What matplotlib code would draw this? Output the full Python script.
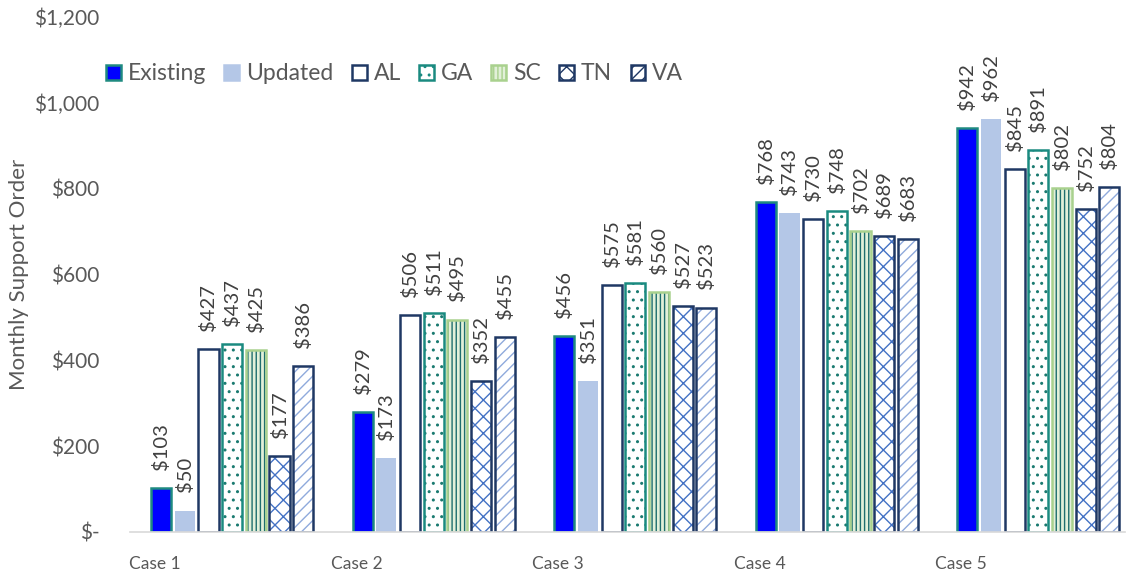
import matplotlib
matplotlib.use("Agg")
import matplotlib.pyplot as plt
import numpy as np
from matplotlib.patches import Patch
from matplotlib.ticker import FuncFormatter

cases = ["Case 1", "Case 2", "Case 3", "Case 4", "Case 5"]
series = ["Existing", "Updated", "AL", "GA", "SC", "TN", "VA"]
existing = [103, 279, 456, 768, 942]
updated = [50, 173, 351, 743, 962]
al = [427, 506, 575, 730, 845]
ga = [437, 511, 581, 748, 891]
sc = [425, 495, 560, 702, 802]
tn = [177, 352, 527, 689, 752]
va = [386, 455, 523, 683, 804]
values = [existing, updated, al, ga, sc, tn, va]

# face, border, hatch, hatch colour
styles = [
    ("#0000FF", "#1F8A80", None, None),
    ("#B4C7E7", "#B4C7E7", None, None),
    ("white", "#1F3864", None, None),
    ("white", "#1A8A80", "..", "#1A7A70"),
    ("#E2F0D9", "#A9D18E", "||||", "#1E6E6E"),
    ("white", "#1F3864", "xx", "#4472C4"),
    ("white", "#1F3864", "///", "#8FAADC"),
]

plt.rcParams["font.family"] = ["Lato", "DejaVu Sans"]
plt.rcParams["hatch.linewidth"] = 1.0
text_col = "#595959"

fig = plt.figure(figsize=(11.31, 5.78), dpi=100)
ax = fig.add_axes([0.115, 0.0796, 0.88, 0.891])

x = np.arange(len(cases))
step = 0.1175
width = 0.1
for k, (name, vals) in enumerate(zip(series, values)):
    face, edge, hatch, hcol = styles[k]
    pos = x + 0.03 + k * step
    lw = 0 if name == "Updated" else 1.8
    if hatch:
        ax.bar(pos, vals, width, color=face, edgecolor=hcol, hatch=hatch, linewidth=0)
        ax.bar(pos, vals, width, fill=False, edgecolor=edge, linewidth=lw)
    else:
        ax.bar(pos, vals, width, color=face, edgecolor=edge, linewidth=lw)
    for px, v in zip(pos, vals):
        ax.annotate(f"${v}", (px, v), xytext=(0, 13), textcoords="offset points",
                    rotation=90, ha="center", va="bottom", fontsize=14.5, color="#404040")

ax.set_xlim(-0.124, 4.814)
ax.set_ylim(0, 1200)
ax.set_yticks(range(0, 1201, 200))
ax.yaxis.set_major_formatter(FuncFormatter(lambda v, p: "$-" if v == 0 else f"${v:,.0f}"))
ax.set_xticks(x)
ax.set_xticklabels(cases)
ax.tick_params(axis="both", length=0, labelcolor=text_col)
ax.tick_params(axis="x", pad=17, labelsize=12.5)
ax.tick_params(axis="y", pad=22, labelsize=15)
for s in ["top", "right", "left"]:
    ax.spines[s].set_visible(False)
ax.spines["bottom"].set_color("#D9D9D9")
ax.spines["bottom"].set_linewidth(1.2)
ax.set_ylabel("Monthly Support Order", fontsize=16, color=text_col, labelpad=4)

handles = []
for k, name in enumerate(series):
    face, edge, hatch, hcol = styles[k]
    handles.append(Patch(facecolor=face, edgecolor=edge, hatch=hatch, linewidth=1.8))
leg = ax.legend(handles, series, ncol=7, loc="upper left", bbox_to_anchor=(-0.045, 0.95),
                frameon=False, fontsize=16.5, handlelength=0.65, handleheight=0.65,
                handletextpad=0.3, columnspacing=0.8, labelcolor=text_col)

fig.savefig("out.png", dpi=100)
